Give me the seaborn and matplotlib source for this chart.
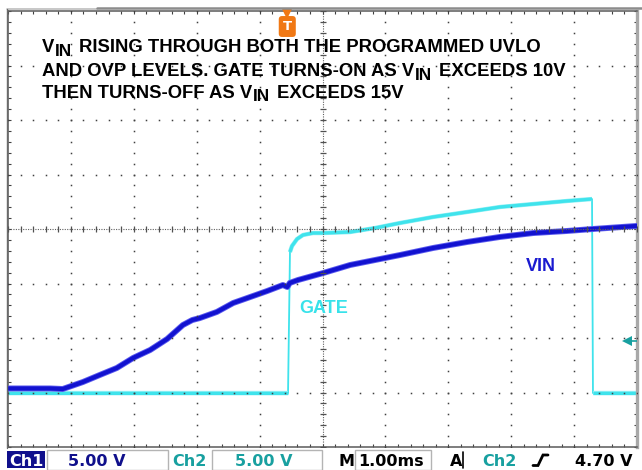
import matplotlib
matplotlib.use("Agg")
import matplotlib.pyplot as plt
import matplotlib.transforms as mtransforms
from matplotlib.patches import Rectangle
from matplotlib.lines import Line2D
from matplotlib.ticker import MultipleLocator, NullFormatter
import numpy as np
import pandas as pd
import seaborn as sns

# ---- scope capture: 1 ms/div, both channels 5 V/div, ground 3 div below centre ----
VIN_T_MS = [0.00, 0.67, 0.87, 1.19, 1.46, 1.73, 1.99, 2.26, 2.53, 2.78, 2.93, 3.05,
            3.32, 3.58, 3.85, 4.12, 4.37, 4.44, 4.48, 4.61, 5.01, 5.44, 6.23, 6.76,
            7.30, 7.82, 8.35, 8.89, 9.30, 10.00]
VIN_V = [0.37, 0.37, 0.32, 0.96, 1.61, 2.25, 3.17, 3.90, 4.91, 6.19, 6.65, 6.83,
         7.39, 8.21, 8.76, 9.31, 9.86, 9.68, 10.05, 10.32, 10.96, 11.70, 12.61, 13.26,
         13.81, 14.27, 14.63, 14.82, 15.00, 15.28]

GATE_T_MS = [0.00, 4.452, 4.483, 4.515, 4.595, 4.690, 4.849, 5.008, 5.437, 5.835,
             6.232, 6.757, 7.297, 7.822, 8.347, 8.887, 9.285, 9.300, 10.00]
GATE_V = [-0.05, -0.05, 12.89, 13.44, 14.08, 14.45, 14.63, 14.63, 14.72, 15.09,
          15.55, 16.10, 16.56, 17.02, 17.29, 17.57, 17.75, -0.05, -0.05]

CH1_SCALE = "5.00 V"
CH2_SCALE = "5.00 V"
TIMEBASE = "1.00ms"
TRIG_LEVEL_TXT = "4.70 V"
TRIG_LEVEL_V = 4.70
TRIG_TIME_MS = 4.44

NOTE_LINES = [
    [("V", 0), ("IN", 1), ("RISING THROUGH BOTH THE PROGRAMMED UVLO", 0)],
    [("AND OVP LEVELS. GATE TURNS-ON AS V", 0), ("IN", 1), ("EXCEEDS 10V", 0)],
    [("THEN TURNS-OFF AS V", 0), ("IN", 1), ("EXCEEDS 15V", 0)],
]

VIN_COLOR = "#1212D0"
VIN_EDGE = "#5A5AEE"
GATE_COLOR = "#3FE3EC"
GATE_EDGE = "#8CEFF4"
NAVY = "#10108C"
TEAL = "#18A0A0"
ORANGE = "#F07814"
GRID = "#404040"

sns.set_style("white")
plt.rcParams["font.family"] = ["Liberation Sans", "DejaVu Sans"]

W, H = 642, 470
fig = plt.figure(figsize=(W / 100, H / 100), dpi=100)
fig.patch.set_facecolor("white")

# graticule: 10 x 8 divisions
L, R, T, B = 8, 637, 11, 447
ax = fig.add_axes([L / W, 1 - B / H, (R - L) / W, (B - T) / H])
ax.set_xlim(0, 10)
ax.set_ylim(-5, 35)
ax.set_facecolor("white")

# edge ticks every 1/5 division
ax.xaxis.set_major_locator(MultipleLocator(1))
ax.xaxis.set_minor_locator(MultipleLocator(0.2))
ax.yaxis.set_major_locator(MultipleLocator(5))
ax.yaxis.set_minor_locator(MultipleLocator(1))
for axis in (ax.xaxis, ax.yaxis):
    axis.set_major_formatter(NullFormatter())
    axis.set_minor_formatter(NullFormatter())
ax.tick_params(which="both", direction="in", top=True, bottom=True, left=True,
               right=True, color=GRID, width=0.8, labelbottom=False, labelleft=False)
ax.tick_params(which="major", length=2.4)
ax.tick_params(which="minor", length=2.0)
for side in ("top", "bottom", "left"):
    ax.spines[side].set_color("#5A5A5A")
    ax.spines[side].set_linewidth(1.1)
ax.spines["right"].set_color("#A8A8A8")
ax.spines["right"].set_linewidth(2.4)

# dotted division lines
xs_minor = np.arange(0, 10.001, 0.2)
ys_minor = np.arange(-5, 35.001, 1.0)
for xd in [1, 2, 3, 4, 6, 7, 8, 9]:
    ax.plot(np.full_like(ys_minor, xd), ys_minor, ls="none", marker="s", ms=1.1,
            color=GRID, mew=0, zorder=4)
for yd in [0, 5, 10, 20, 25, 30]:
    ax.plot(xs_minor, np.full_like(xs_minor, yd), ls="none", marker="s", ms=1.1,
            color=GRID, mew=0, zorder=4)

# centre cross-hair with tick marks
ax.axhline(15, ls=(0, (1, 1.2)), lw=0.8, color="#606060", zorder=4)
ax.axvline(5, ls=(0, (1, 1.2)), lw=0.8, color="#606060", zorder=4)
ax.plot(xs_minor, np.full_like(xs_minor, 15), ls="none", marker="|", ms=4.5,
        mew=0.9, color="#505050", zorder=4)
ax.plot(np.full_like(ys_minor, 5), ys_minor, ls="none", marker="_", ms=4.5,
        mew=0.9, color="#505050", zorder=4)

# ---- traces ----
gate = pd.DataFrame({"t": GATE_T_MS, "v": GATE_V})
vin = pd.DataFrame({"t": VIN_T_MS, "v": VIN_V})

# thin line for the whole gate trace (fast edges), thicker where it is settled
sns.lineplot(data=gate, x="t", y="v", ax=ax, color=GATE_COLOR, lw=1.3,
             estimator=None, sort=False, zorder=2)
jumps = np.where(np.abs(np.diff(gate["v"].to_numpy())) > 5)[0]
starts = np.r_[0, jumps + 1]
ends = np.r_[jumps, len(gate) - 1]
for s, e in zip(starts, ends):
    seg = gate.iloc[s:e + 1]
    if len(seg) > 1:
        for lw, col in ((3.1, GATE_EDGE), (2.3, GATE_COLOR)):
            sns.lineplot(data=seg, x="t", y="v", ax=ax, color=col, lw=lw,
                         estimator=None, sort=False, zorder=2,
                         solid_capstyle="butt")
for lw, col in ((4.3, VIN_EDGE), (3.0, VIN_COLOR)):
    sns.lineplot(data=vin, x="t", y="v", ax=ax, color=col, lw=lw,
                 estimator=None, sort=False, zorder=3)
ax.set_xlabel("")
ax.set_ylabel("")

# trace labels
ax.text(8.235, 11.15, "VIN", color="#1A1AD0", fontsize=13, fontweight="bold",
        family="Liberation Sans", va="baseline", ha="left", zorder=5)
ax.text(4.626, 7.29, "GATE", color="#38E2EA", fontsize=13, fontweight="bold",
        family="Liberation Sans", va="baseline", ha="left", zorder=5)

# trigger position marker (top) and trigger level marker (right)
top_tr = mtransforms.blended_transform_factory(ax.transData, ax.transAxes)
ax.plot([TRIG_TIME_MS], [1 - 2.5 / 436], marker="v", ms=7.5, color=ORANGE,
        mew=0, transform=top_tr, clip_on=False, zorder=6)
ax.text(TRIG_TIME_MS, 1 - 15.5 / 436, "T", color="white", fontsize=9.5,
        fontweight="bold", family="DejaVu Sans", ha="center", va="center",
        transform=top_tr, zorder=7,
        bbox=dict(boxstyle="round,pad=0.3,rounding_size=0.25", fc=ORANGE, ec="none"))
ax.plot([9.84], [TRIG_LEVEL_V], marker="<", ms=7, color=TEAL, mew=0, zorder=6)
ax.plot([9.86, 10.0], [TRIG_LEVEL_V, TRIG_LEVEL_V], color=TEAL, lw=1.2, zorder=6)

# ---- overlay in pixel coordinates: frame, note text, status bar ----
ov = fig.add_axes([0, 0, 1, 1], zorder=10)
ov.set_xlim(0, W)
ov.set_ylim(H, 0)
ov.axis("off")
ov.patch.set_alpha(0)

ov.add_line(Line2D([7, 97], [8.5, 8.5], color="#BDBDBD", lw=1.2))
ov.add_line(Line2D([97, 642], [7.5, 7.5], color="#8C8C8C", lw=1.8))
ov.add_line(Line2D([7.2, 7.2], [9, 448], color="#6A6A6A", lw=1.0))

renderer = fig.canvas.get_renderer()


def draw_note_line(x, base, runs):
    for txt, is_sub in runs:
        size = 12.4 if is_sub else 13.3
        drop = 3.8 if is_sub else 0
        t = ov.text(x, base + drop, txt, fontsize=size, fontweight="bold",
                    family="Liberation Sans", color="black", va="baseline",
                    ha="left")
        x += t.get_window_extent(renderer=renderer).width + (6.5 if is_sub else 0.8)


for (base, runs) in zip([52, 76, 97.5], NOTE_LINES):
    draw_note_line(42, base, runs)

# status bar
SB = dict(fontsize=11.5, fontweight="bold", family="DejaVu Sans", va="baseline",
          ha="left")
BASE = 465.5
ov.add_patch(Rectangle((7, 451), 38, 16.5, fc=NAVY, ec="none"))
ov.text(9, BASE, "Ch1", color="white", **SB)
ov.add_patch(Rectangle((47, 450), 121, 19.5, fc="none", ec="#B4B4B4", lw=1))
ov.text(68, BASE, CH1_SCALE, color=NAVY, **SB)
ov.text(172, BASE, "Ch2", color=TEAL, **SB)
ov.add_patch(Rectangle((212, 450), 110, 19.5, fc="none", ec="#B4B4B4", lw=1))
ov.text(235, BASE, CH2_SCALE, color=TEAL, **SB)
ov.text(338, BASE, "M", color="black", **SB)
ov.add_patch(Rectangle((355, 450), 76, 19.5, fc="none", ec="#B4B4B4", lw=1))
ov.text(358, BASE, TIMEBASE, color="black", **SB)
ov.text(450, BASE, "A", color="black", **SB)
ov.add_line(Line2D([463, 463], [452, 468], color="black", lw=1.2))
ov.text(482, BASE, "Ch2", color=TEAL, **SB)
ov.add_line(Line2D([533, 538, 543, 548], [465.5, 465.5, 455, 455], color="black",
                   lw=2.0, solid_joinstyle="miter"))
ov.text(575, BASE, TRIG_LEVEL_TXT, color="black", **SB)

fig.savefig("out.png", dpi=100, facecolor="white")
